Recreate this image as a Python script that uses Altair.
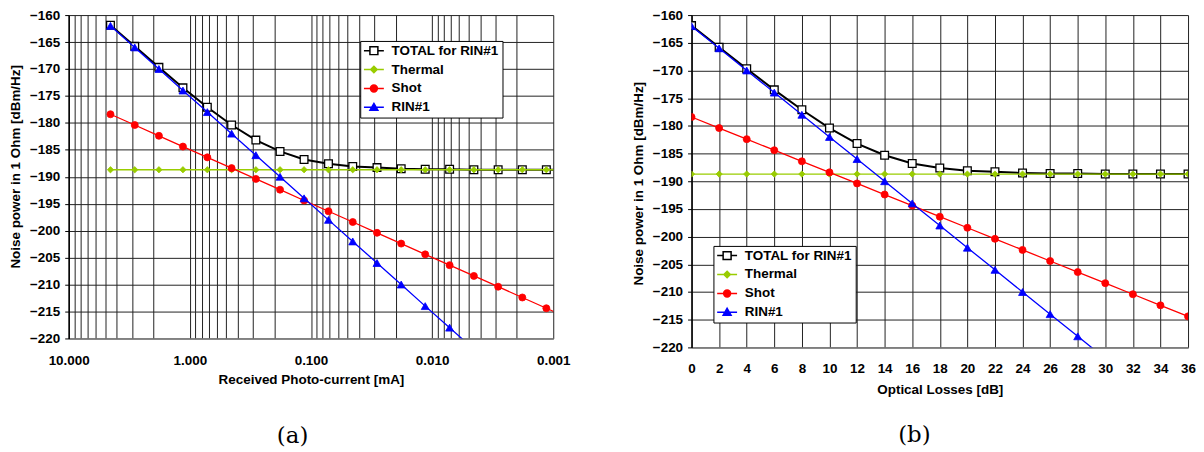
import altair as alt
import pandas as pd

# ---------------- data ----------------
series_names = ["TOTAL for RIN#1", "Thermal", "Shot", "RIN#1"]
series_colors = ["#000000", "#99CC00", "#FF0000", "#0000FF"]
marker_fills = ["#FFFFFF", "#99CC00", "#FF0000", "#0000FF"]
marker_shapes = ["square", "diamond", "circle", "triangle-up"]

loss_db = [0, 2, 4, 6, 8, 10, 12, 14, 16, 18, 20, 22, 24, 26, 28, 30, 32, 34, 36, 38]
current_ma = [4.52, 2.85, 1.80, 1.14, 0.717, 0.452, 0.285, 0.180, 0.114, 0.0717,
              0.0452, 0.0285, 0.0180, 0.0114, 0.00717, 0.00452, 0.00285, 0.00180, 0.00114,
              0.000717]
total_dbm = [-161.9, -165.8, -169.7, -173.5, -177.1, -180.4, -183.2, -185.3, -186.8,
             -187.6, -188.1, -188.3, -188.5, -188.6, -188.6, -188.7, -188.7, -188.7, -188.7,
             -188.7]
thermal_dbm = [-188.7, -188.7, -188.7, -188.7, -188.7, -188.7, -188.7, -188.7, -188.7,
               -188.7, -188.7, -188.7, -188.7, -188.7, -188.7, -188.7, -188.7, -188.7, -188.7,
               -188.7]
shot_dbm = [-178.4, -180.4, -182.4, -184.4, -186.4, -188.4, -190.4, -192.4, -194.4,
            -196.4, -198.4, -200.4, -202.4, -204.4, -206.4, -208.4, -210.4, -212.4, -214.4,
            -216.4]
rin_dbm = [-162.0, -166.0, -170.0, -174.0, -178.0, -182.0, -186.0, -190.0, -194.0,
           -198.0, -202.0, -206.0, -210.0, -214.0, -218.0, -222.0]

y_ticks = [-220, -215, -210, -205, -200, -195, -190, -185, -180, -175, -170, -165, -160]
db_ticks = [0, 2, 4, 6, 8, 10, 12, 14, 16, 18, 20, 22, 24, 26, 28, 30, 32, 34, 36]
log_grid = [0.001, 0.002, 0.003, 0.004, 0.005, 0.006, 0.007, 0.008, 0.009,
            0.01, 0.02, 0.03, 0.04, 0.05, 0.06, 0.07, 0.08, 0.09,
            0.1, 0.2, 0.3, 0.4, 0.5, 0.6, 0.7, 0.8, 0.9,
            1, 2, 3, 4, 5, 6, 7, 8, 9, 10]

# legend symbols: a short line with the marker in its middle
legend_paths = [
    "M-2,0H-0.8M0.8,0H2M-0.8,-0.8H0.8V0.8H-0.8Z",
    "M-2,0H2M0,-0.65L0.65,0L0,0.65L-0.65,0Z",
    "M-2,0H2M-0.7,0A0.7,0.7 0 1,0 0.7,0A0.7,0.7 0 1,0 -0.7,0Z",
    "M-2,0H2M0,-0.8L0.8,0.6H-0.8Z",
]

rows = []
series_values = [total_dbm, thermal_dbm, shot_dbm, rin_dbm]
for name, vals in zip(series_names, series_values):
    for i, v in enumerate(vals):
        rows.append({"series": name, "loss": loss_db[i], "current": current_ma[i], "value": v})
df = pd.DataFrame(rows)

FONT = "Liberation Sans"
marker_sizes = [60, 40, 50, 64]
line_widths = [2.0, 1.3, 1.3, 1.3]

y_title = "Noise power in 1 Ohm [dBm/Hz]"


def panel(xfield, xscale, xaxis, width, height, legend_x, legend_y, caption, cap_x, cap_y,
          y_title_y):
    yscale = alt.Scale(domain=[-220, -160], nice=False, zero=False)
    yaxis = alt.Axis(values=y_ticks, title=y_title, grid=True, tickSize=4,
                     labelPadding=5, titlePadding=7, domainColor="#000", titleY=y_title_y)
    base = alt.Chart(df)
    ex = alt.X(f"{xfield}:Q", scale=xscale, axis=xaxis)
    ey = alt.Y("value:Q", scale=yscale, axis=yaxis)
    layers = []
    for i, name in enumerate(series_names):
        sub = base.transform_filter(alt.datum.series == name)
        layers.append(sub.mark_line(color=series_colors[i], strokeWidth=line_widths[i],
                                    clip=True).encode(x=ex, y=ey))
        layers.append(sub.mark_point(shape=marker_shapes[i], size=marker_sizes[i], filled=True,
                                     fill=marker_fills[i], stroke=series_colors[i],
                                     strokeWidth=1.3 if i == 0 else 0.8, opacity=1,
                                     clip=True).encode(x=ex, y=ey))
    leg = alt.Legend(title=None, orient="none", legendX=legend_x, legendY=legend_y,
                     labelFont=FONT, labelFontSize=13.5, labelFontWeight="bold",
                     labelColor="#000", symbolSize=100, symbolStrokeWidth=1.5,
                     symbolOffset=4, labelOffset=11, rowPadding=4, padding=3,
                     strokeColor="#000", fillColor="#FFFFFF")
    legend_layer = base.transform_filter("datum.value > 0").mark_point(
        filled=True, opacity=1).encode(
        x=ex, y=ey,
        shape=alt.Shape("series:N", scale=alt.Scale(domain=series_names, range=legend_paths),
                        legend=leg, sort=series_names),
        fill=alt.Fill("series:N", scale=alt.Scale(domain=series_names, range=marker_fills),
                      legend=leg, sort=series_names),
        stroke=alt.Stroke("series:N", scale=alt.Scale(domain=series_names, range=series_colors),
                          legend=leg, sort=series_names),
    )
    layers.append(legend_layer)
    cap = alt.Chart(pd.DataFrame({"c": [caption]})).mark_text(
        font="DejaVu Serif", fontSize=23, baseline="middle", align="center", color="#000"
    ).encode(text="c:N", x=alt.value(cap_x), y=alt.value(cap_y))
    layers.append(cap)
    return alt.layer(*layers).properties(width=width, height=height)


left_axis = alt.Axis(values=log_grid, title="Received Photo-current [mA]", grid=True,
                     ticks=False, labelPadding=15, titlePadding=6, domainColor="#808080",
                     labelExpr="indexof([0.001,0.01,0.1,1,10], datum.value) >= 0 ? format(datum.value, '.3f') : ''",
                     labelFlush=False, labelOverlap=False)
left_scale = alt.Scale(type="log", domain=[0.001, 10], reverse=True, nice=False)
left = panel("current", left_scale, left_axis, 487, 325, 293, 26, "(a)", 225, 423, 152)

right_axis = alt.Axis(values=db_ticks, title="Optical Losses [dB]", grid=True, ticks=False,
                      labelPadding=14, titlePadding=8, domainColor="#808080",
                      labelFlush=False, labelOverlap=False)
right_scale = alt.Scale(domain=[0, 36], nice=False, zero=False)
right = panel("loss", right_scale, right_axis, 499, 334, 22, 232, "(b)", 224, 422, 169)

chart = alt.hconcat(left, right, spacing=61).resolve_scale(
    shape="independent", fill="independent", stroke="independent"
).resolve_legend(
    shape="independent", fill="independent", stroke="independent"
).properties(
    padding={"left": 0, "top": -1, "right": 0, "bottom": 0}
).configure(font=FONT).configure_view(stroke=None).configure_axis(
    gridColor="#222", gridOpacity=1, gridWidth=1,
    labelFont=FONT, labelFontSize=13.5, labelFontWeight="bold", labelColor="#000",
    titleFont=FONT, titleFontSize=13.5, titleFontWeight="bold", titleColor="#000",
    tickColor="#000", domainWidth=1.5
)

chart.save("out.html", embed_options={"renderer": "svg", "actions": False})
